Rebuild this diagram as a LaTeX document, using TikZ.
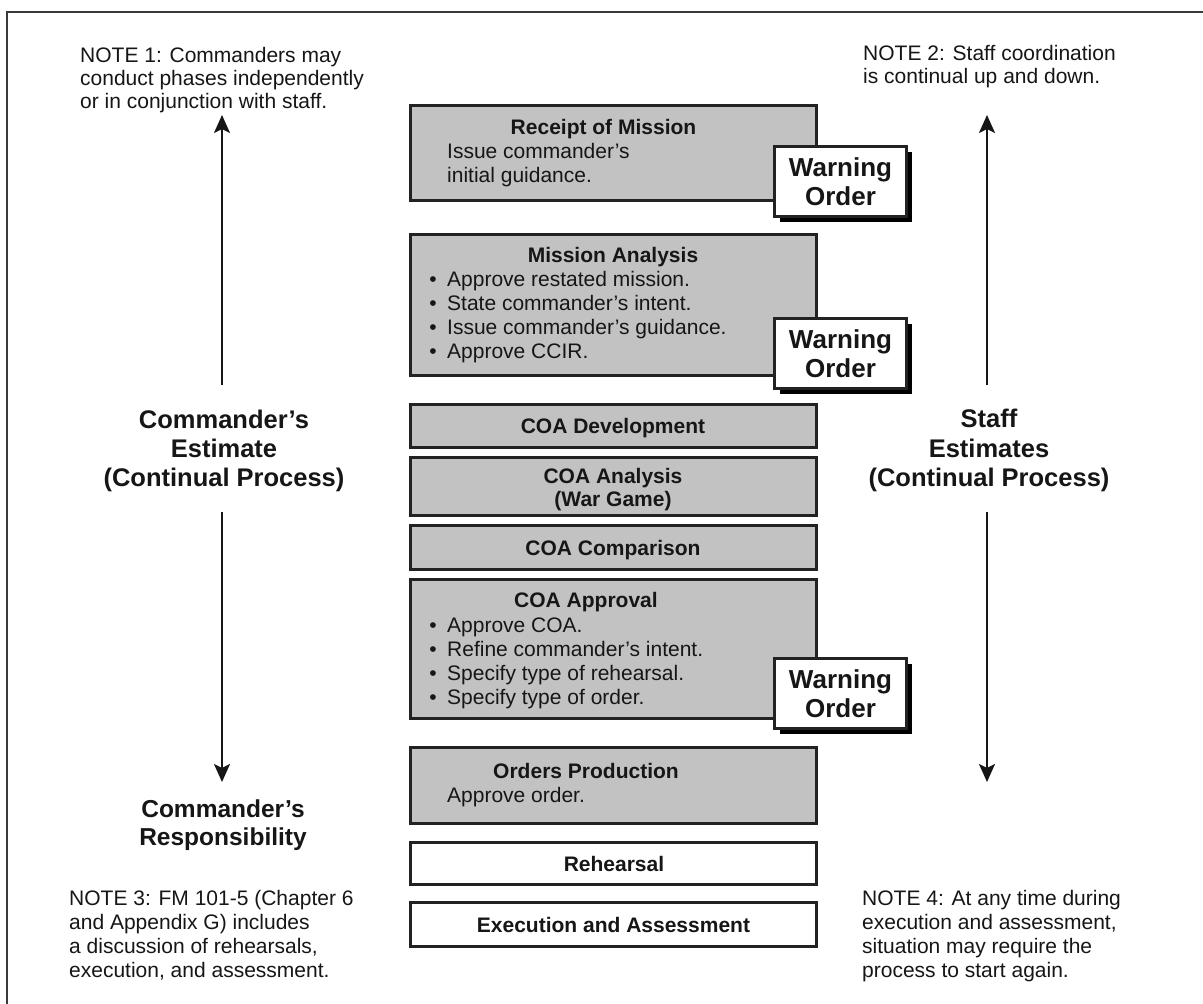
\documentclass[tikz,border=0pt]{standalone}
\usepackage{fontspec}
\setmainfont{Liberation Sans}
\usetikzlibrary{arrows.meta,shadows}
\definecolor{boxgray}{HTML}{C2C2C2}
\definecolor{boxline}{HTML}{222222}
\definecolor{txt}{HTML}{161616}
\definecolor{frameline}{HTML}{3A3A3A}
\newcommand\bodyfs{\fontsize{21}{24}\selectfont}
\newcommand\titlefs{\fontsize{21}{24}\selectfont\bfseries}
\newcommand\bigfs{\fontsize{25.5}{29}\selectfont\bfseries}
\newcommand\respfs{\fontsize{24.5}{28}\selectfont\bfseries}
\newcommand\warnfs{\fontsize{26}{29}\selectfont\bfseries}
\tikzset{
  phase/.style={draw=boxline, line width=3pt, fill=boxgray, inner sep=0, minimum width=406pt},
  phasewhite/.style={phase, fill=white},
  warnbox/.style={draw=boxline, line width=3pt, fill=white, inner sep=0,
    minimum width=132pt, minimum height=70pt,
    general shadow={fill=black, shadow xshift=6pt, shadow yshift=-6pt}},
  ctext/.style={inner sep=0, anchor=base, text=txt},
  ltext/.style={inner sep=0, anchor=base west, text=txt},
  title/.style={ctext, font=\titlefs},
  body/.style={ltext, font=\bodyfs},
  bul/.style={ctext, font=\bodyfs},
  note/.style={ltext, font=\bodyfs},
  bigtxt/.style={ctext, font=\bigfs},
  warntxt/.style={ctext, font=\warnfs},
  arr/.style={draw=txt, line width=2.2pt, -{Stealth[length=18pt,width=16pt,inset=4pt]}},
  frame/.style={draw=frameline, line width=2.5pt}
}
\begin{document}
\begin{tikzpicture}[x=1pt,y=-1pt]
\useasboundingbox (0,0) rectangle (1203,1004);
\fill[white] (0,0) rectangle (1203,1004);
\draw[frame] (7,1010) -- (7,12) -- (1210,12);

% phase boxes
\node[phase, minimum height=95pt] (rom) at (613,152.5) {};
\node[phase, minimum height=141pt] (ma) at (613,304.5) {};
\node[phase, minimum height=43pt] (dev) at (613,425.5) {};
\node[phase, minimum height=58pt] (ana) at (613,486) {};
\node[phase, minimum height=44pt] (cmp) at (613,547) {};
\node[phase, minimum height=139pt] (app) at (613,648.5) {};
\node[phase, minimum height=76pt] (op) at (613,785) {};
\node[phasewhite, minimum height=42pt] (reh) at (613,863) {};
\node[phasewhite, minimum height=44pt] (exe) at (613,924) {};

% warning order boxes
\node[warnbox] (w1) at (840,181) {};
\node[warnbox] (w2) at (840,353) {};
\node[warnbox] (w3) at (840,693) {};
\foreach \n/\y in {w1/181, w2/353, w3/693}{
  \node[warntxt] (\n a) at (840.5,\y-5) {Warning};
  \node[warntxt] (\n b) at (840.5,\y+24) {Order};
}

% texts in boxes
\node[title] (romT) at (603.5,134) {Receipt of Mission};
\node[body] (rom1) at (447,158) {Issue commander's};
\node[body] (rom2) at (447,182) {initial guidance.};

\node[title] (maT) at (613,262) {Mission Analysis};
\foreach \t [count=\i] in {Approve restated mission., State commander's intent., Issue commander's guidance., Approve CCIR.}{
  \node[bul] (mab\i) at (433,262+24*\i) {•};
  \node[body] (ma\i) at (447,262+24*\i) {\t};
}

\node[title] (devT) at (613,433) {COA Development};
\node[title] (anaT) at (613,483) {COA Analysis};
\node[title] (anaT2) at (613,506) {(War Game)};
\node[title] (cmpT) at (613,555) {COA Comparison};

\node[title] (appT) at (586,607) {COA Approval};
\foreach \t [count=\i] in {Approve COA., Refine commander's intent., Specify type of rehearsal., Specify type of order.}{
  \node[bul] (appb\i) at (433,608+24*\i) {•};
  \node[body] (app\i) at (447,608+24*\i) {\t};
}

\node[title] (opT) at (586,778) {Orders Production};
\node[body] (op1) at (447,802) {Approve order.};
\node[title] (rehT) at (614,871) {Rehearsal};
\node[title] (exeT) at (613.5,932) {Execution and Assessment};

% side labels
\node[bigtxt] (ce1) at (224,428) {Commander's};
\node[bigtxt] (ce2) at (224,457) {Estimate};
\node[bigtxt] (ce3) at (224,486) {(Continual Process)};
\node[bigtxt] (se1) at (989,427) {Staff};
\node[bigtxt] (se2) at (989,457) {Estimates};
\node[bigtxt] (se3) at (989,486) {(Continual Process)};
\node[ctext, font=\respfs] (cr1) at (223,817) {Commander's};
\node[ctext, font=\respfs] (cr2) at (223,845) {Responsibility};

% arrows
\coordinate (la) at (222,385);
\coordinate (lat) at (222,115);
\coordinate (lb) at (222,512);
\coordinate (lbt) at (222,782);
\coordinate (ra) at (987,385);
\coordinate (rat) at (987,115);
\coordinate (rb) at (987,512);
\coordinate (rbt) at (987,782);
\draw[arr] (la) -- (lat);
\draw[arr] (lb) -- (lbt);
\draw[arr] (ra) -- (rat);
\draw[arr] (rb) -- (rbt);

% notes
\foreach \t [count=\i] in {NOTE 1: Commanders may, conduct phases independently, or in conjunction with staff.}{
  \node[note] (na\i) at (80,39+23*\i) {\t};
}
\foreach \t [count=\i] in {NOTE 2: Staff coordination, is continual up and down.}{
  \node[note] (nb\i) at (863,37+23*\i) {\t};
}
\foreach \t [count=\i] in {NOTE 3: FM 101-5 (Chapter 6, and Appendix G) includes, {a discussion of rehearsals,}, {execution, and assessment.}}{
  \node[note] (nc\i) at (69,881+24*\i) {\t};
}
\foreach \t [count=\i] in {NOTE 4: At any time during, {execution and assessment,}, situation may require the, process to start again.}{
  \node[note] (nd\i) at (862,881+24*\i) {\t};
}
\end{tikzpicture}
\end{document}
